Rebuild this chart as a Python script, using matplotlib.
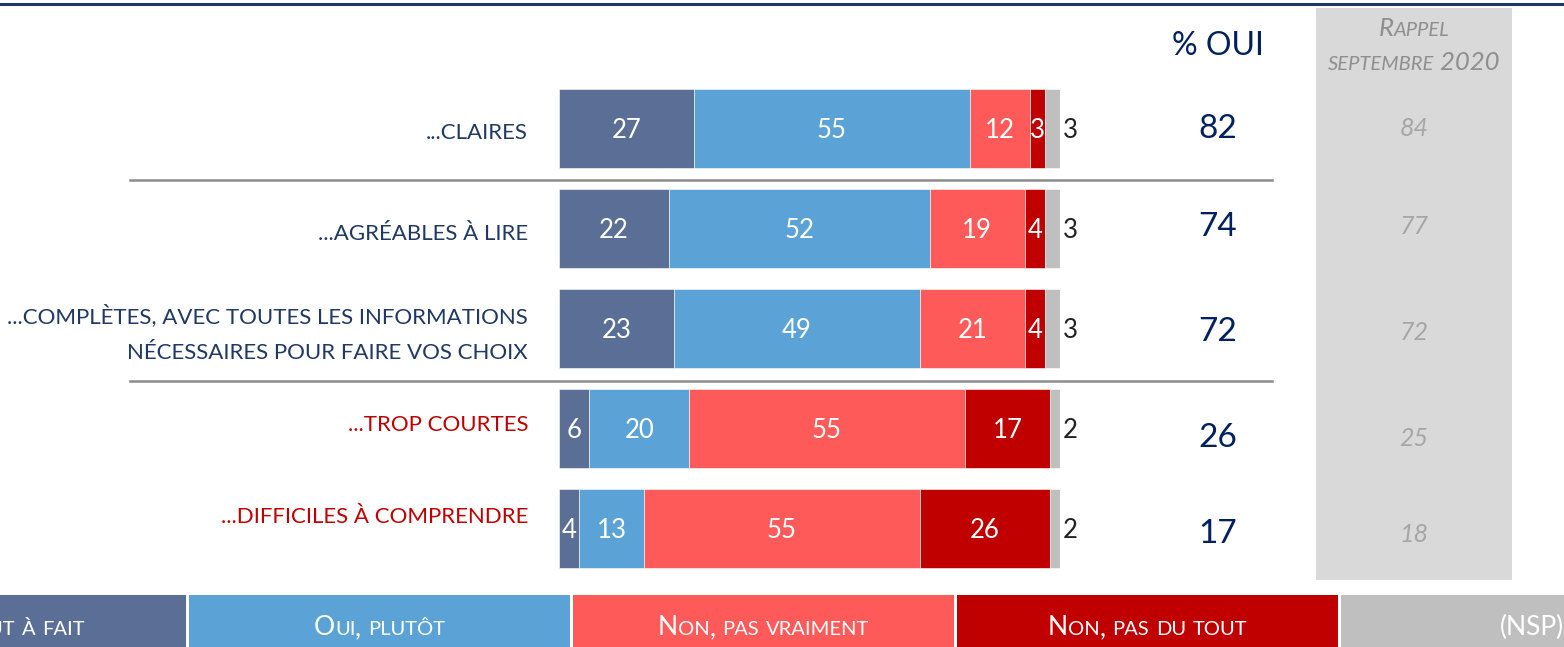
import matplotlib
matplotlib.use("Agg")
from matplotlib import pyplot as plt
from matplotlib import transforms
from matplotlib.patches import Rectangle
from matplotlib.lines import Line2D
import numpy as np

# ==================================================
#   DATA

categories = ["...claires",
              "...agréables à lire",
              "...complètes, avec toutes les informations\nnécessaires pour faire vos choix",
              "...trop courtes",
              "...difficiles à comprendre"]
oui_tout = [27, 22, 23, 6, 4]
oui_plutot = [55, 52, 49, 20, 13]
non_pas_vraiment = [12, 19, 21, 55, 55]
non_pas_du_tout = [3, 4, 4, 17, 26]
nsp = [3, 3, 3, 2, 2]
pct_oui = [82, 74, 72, 26, 17]
rappel_2020 = [84, 77, 72, 25, 18]
legend_labels = ["Oui, tout à fait", "Oui, plutôt", "Non, pas vraiment", "Non, pas du tout", "(NSP)"]

colors = ["#5A6E96", "#5BA3D6", "#FF5A5A", "#C00000", "#BFBFBF"]
label_colors = ["#1F3864", "#1F3864", "#1F3864", "#C00000", "#C00000"]
navy = "#002060"
FONT = "Lato"

# small vertical nudges (layout only) to follow the slide
label_dy = [0.05, 0.06, 0.06, -0.03, -0.11]
col_dy = [0.01, -0.01, 0.04, 0.1, 0.06]

W, H = 1564, 647
fig = plt.figure(figsize=(W / 100, H / 100), dpi=100)
plt.rcParams['font.family'] = [FONT, 'DejaVu Sans']


def fx(px):
    return px / W


def fy(py):
    return 1 - py / H


def smallcaps(x, y, s, big, small, ha="center", **kw):
    # fake small caps: lowercase letters drawn as smaller capitals
    runs = []
    for ch in s:
        size = small if ch.islower() else big
        if runs and runs[-1][1] == size:
            runs[-1][0] += ch.upper()
        else:
            runs.append([ch.upper(), size])
    r = fig.canvas.get_renderer()
    texts = [fig.text(0, 0, t, fontsize=sz, va="baseline", ha="left", **kw) for t, sz in runs]
    widths = [t.get_window_extent(r).width for t in texts]
    total = sum(widths)
    x0 = x - (total / 2 if ha == "center" else 0)
    for t, w in zip(texts, widths):
        t.set_position((fx(x0), fy(y)))
        x0 += w


# ==================================================
#   BARS

ax = fig.add_axes([fx(559), fy(578), fx(501), 500 / H])
rows = np.arange(len(categories))
series = [oui_tout, oui_plutot, non_pas_vraiment, non_pas_du_tout, nsp]
left = np.zeros(len(categories))
for k, (vals, c) in enumerate(zip(series, colors)):
    vals = np.array(vals, dtype=float)
    ax.barh(rows, vals, left=left, height=0.79, color=c, edgecolor="white", linewidth=0.4)
    if k < 4:
        for i, v in enumerate(vals):
            ax.text(left[i] + v / 2, i + 0.02, f"{v:.0f}", ha="center", va="center",
                    color="white", fontsize=18.5)
    else:
        for i, v in enumerate(vals):
            ax.text(left[i] + v + 2.0, i + 0.02, f"{v:.0f}", ha="center", va="center",
                    color="#222222", fontsize=18.5)
    left += vals
ax.set_xlim(0, 100)
ax.set_ylim(4.5, -0.5)
ax.axis("off")

blend = transforms.blended_transform_factory(fig.transFigure, ax.transData)

# category labels
for i, (cat, c) in enumerate(zip(categories, label_colors)):
    ax.text(fx(528), i + label_dy[i], cat.upper(), transform=blend, ha="right", va="center",
            color=c, fontsize=16, linespacing=2.0)

# % OUI column
fig.text(fx(1218), fy(46), "% OUI", ha="center", va="center", color=navy, fontsize=23)
for i, v in enumerate(pct_oui):
    ax.text(fx(1218), i + col_dy[i], f"{v}", transform=blend, ha="center", va="center",
            color=navy, fontsize=24)

# rappel septembre 2020 column
fig.add_artist(Rectangle((fx(1316), fy(580)), fx(196), 572 / H, transform=fig.transFigure,
                         facecolor="#D9D9D9", edgecolor="none", zorder=0))
smallcaps(1414, 36, "Rappel", 18.5, 14.5, color="#8F8F8F", style="italic")
smallcaps(1414, 70, "septembre 2020", 18.5, 14.5, color="#8F8F8F", style="italic")
for i, v in enumerate(rappel_2020):
    ax.text(fx(1414), i + col_dy[i], f"{v}", transform=blend, ha="center", va="center",
            color="#A6A6A6", fontsize=18, style="italic")

# separators
for yy in [0.52, 2.53]:
    ax.add_line(Line2D([fx(130), fx(1272)], [yy, yy], transform=blend,
                       color="#8C8C8C", lw=1.8, clip_on=False))
fig.add_artist(Line2D([0, 1], [fy(4), fy(4)], transform=fig.transFigure, color="#1F3864", lw=2.2))

# ==================================================
#   LEGEND

box_w, gap, x_start = 381, 3, -195
for k, (lab, c) in enumerate(zip(legend_labels, colors)):
    x0 = x_start + k * (box_w + gap)
    fig.add_artist(Rectangle((fx(x0), 0), fx(box_w), 52 / H, transform=fig.transFigure,
                             facecolor=c, edgecolor="none"))
    smallcaps(x0 + box_w / 2, 635, lab, 19, 14.5, color="white")

fig.savefig("out.png", dpi=100)
